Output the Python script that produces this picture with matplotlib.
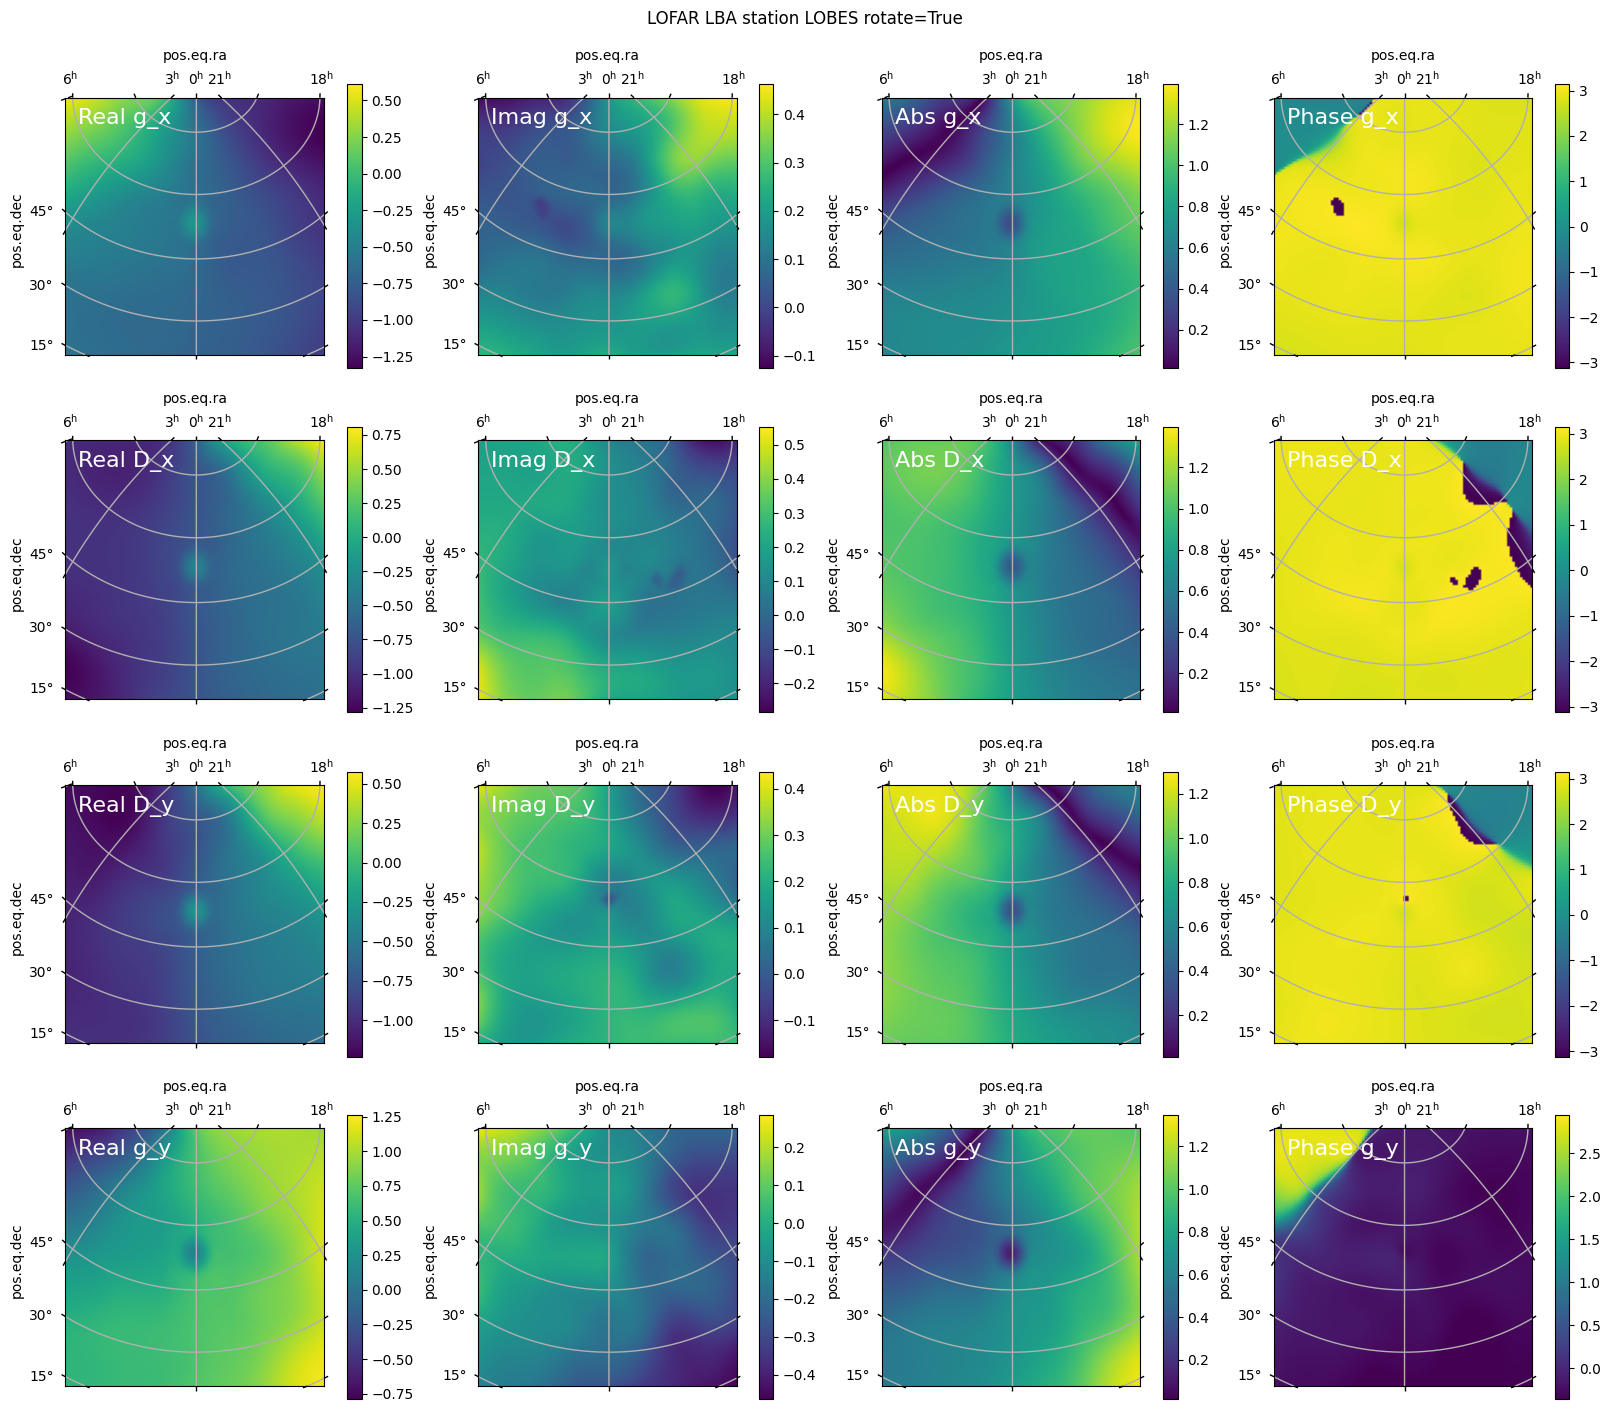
import numpy as np
import matplotlib
matplotlib.use("Agg")
import matplotlib.pyplot as plt
import matplotlib.tri as mtri

# Beam response of one LOFAR LBA station, sampled on a coarse sky grid.
# Rows run from the top of the map to the bottom, columns from left to right.
real_g_x = [
    [ 0.58,  0.45,  0.25,  0.06, -0.75, -1.05, -1.10, -1.20, -1.25],
    [ 0.33,  0.20,  0.02, -0.25, -0.58, -0.90, -1.10, -1.25, -1.33],
    [ 0.10, -0.04, -0.15, -0.35, -0.60, -0.80, -1.00, -1.15, -1.25],
    [-0.15, -0.28, -0.40, -0.50, -0.62, -0.75, -0.88, -1.00, -1.12],
    [-0.38, -0.45, -0.50, -0.55, -0.62, -0.75, -0.82, -0.95, -1.05],
    [-0.50, -0.52, -0.55, -0.58, -0.65, -0.78, -0.80, -0.88, -0.98],
    [-0.60, -0.60, -0.62, -0.64, -0.68, -0.75, -0.78, -0.85, -0.92],
    [-0.62, -0.64, -0.66, -0.66, -0.70, -0.74, -0.78, -0.85, -0.95],
    [-0.60, -0.62, -0.65, -0.68, -0.72, -0.75, -0.80, -0.90, -0.98],
]
imag_g_x = [
    [-0.12, -0.10, -0.07, -0.02,  0.18,  0.28,  0.36,  0.44,  0.46],
    [-0.02, -0.02,  0.02,  0.05,  0.15,  0.20,  0.30,  0.40,  0.40],
    [-0.01,  0.02,  0.05,  0.05,  0.08,  0.15,  0.33,  0.35,  0.32],
    [ 0.03,  0.03,  0.05,  0.07,  0.07,  0.13,  0.25,  0.25,  0.24],
    [ 0.06,  0.05,  0.03,  0.02,  0.10,  0.17,  0.20,  0.20,  0.18],
    [ 0.07,  0.10,  0.10,  0.07,  0.07,  0.10,  0.18,  0.16,  0.13],
    [ 0.13,  0.13,  0.11,  0.13,  0.14,  0.18,  0.26,  0.17,  0.12],
    [ 0.20,  0.18,  0.16,  0.17,  0.18,  0.20,  0.20,  0.18,  0.16],
    [ 0.26,  0.24,  0.21,  0.20,  0.24,  0.20,  0.20,  0.22,  0.22],
]
real_D_x = [
    [-1.00, -1.05, -1.05, -1.00, -0.65,  0.00,  0.20,  0.55,  0.80],
    [-1.02, -1.08, -1.08, -0.95, -0.75, -0.50, -0.05,  0.15,  0.50],
    [-0.98, -1.02, -1.00, -0.90, -0.75, -0.60, -0.35, -0.08,  0.25],
    [-0.98, -0.98, -0.95, -0.85, -0.73, -0.60, -0.45, -0.28, -0.02],
    [-1.00, -0.98, -0.95, -0.85, -0.72, -0.58, -0.50, -0.40, -0.25],
    [-1.05, -1.00, -0.95, -0.88, -0.72, -0.60, -0.52, -0.47, -0.35],
    [-1.15, -1.05, -0.98, -0.90, -0.75, -0.62, -0.52, -0.47, -0.42],
    [-1.28, -1.15, -1.00, -0.90, -0.75, -0.62, -0.55, -0.50, -0.47],
    [-1.20, -1.15, -1.00, -0.85, -0.75, -0.65, -0.58, -0.55, -0.52],
]
imag_D_x = [
    [ 0.18,  0.20,  0.22,  0.22,  0.10,  0.04, -0.05, -0.25, -0.20],
    [ 0.20,  0.20,  0.20,  0.22,  0.14,  0.08, -0.02, -0.08, -0.10],
    [ 0.22,  0.22,  0.22,  0.20,  0.13,  0.10,  0.01,  0.005, -0.06],
    [ 0.25,  0.22,  0.16,  0.17,  0.12,  0.10,  0.07,  0.015, -0.08],
    [ 0.28,  0.20,  0.14,  0.13,  0.08,  0.10,  0.05,  0.03, -0.06],
    [ 0.30,  0.20,  0.12,  0.10,  0.18,  0.06,  0.03,  0.05,  0.04],
    [ 0.35,  0.28,  0.27,  0.20,  0.12,  0.08,  0.08,  0.10,  0.10],
    [ 0.50,  0.35,  0.33,  0.30,  0.22,  0.20,  0.16,  0.16,  0.12],
    [ 0.52,  0.38,  0.36,  0.35,  0.22,  0.20,  0.17,  0.15,  0.13],
]
real_D_y = [
    [-1.20, -1.20, -1.20, -1.00, -0.55,  0.00,  0.25,  0.50,  0.55],
    [-1.15, -1.20, -1.20, -0.95, -0.75, -0.50,  0.02,  0.25,  0.42],
    [-1.12, -1.15, -1.10, -0.95, -0.78, -0.55, -0.30, -0.02,  0.15],
    [-1.08, -1.08, -0.97, -0.90, -0.72, -0.55, -0.40, -0.25, -0.10],
    [-1.05, -1.00, -0.90, -0.80, -0.68, -0.55, -0.45, -0.38, -0.28],
    [-1.05, -0.98, -0.92, -0.85, -0.70, -0.58, -0.50, -0.45, -0.38],
    [-1.05, -1.00, -0.95, -0.88, -0.72, -0.60, -0.52, -0.48, -0.45],
    [-1.02, -1.00, -0.98, -0.90, -0.75, -0.65, -0.58, -0.55, -0.52],
    [-0.98, -0.98, -0.97, -0.90, -0.78, -0.70, -0.65, -0.60, -0.58],
]
imag_D_y = [
    [ 0.42,  0.34,  0.30,  0.28,  0.18,  0.03, -0.05, -0.17, -0.14],
    [ 0.34,  0.30,  0.27,  0.25,  0.18,  0.06, -0.04, -0.10, -0.08],
    [ 0.38,  0.28,  0.25,  0.22,  0.18,  0.12,  0.03,  0.02,  0.03],
    [ 0.35,  0.28,  0.24,  0.20,  0.09,  0.12,  0.15,  0.10,  0.02],
    [ 0.33,  0.25,  0.18,  0.14,  0.12,  0.10,  0.18,  0.17,  0.12],
    [ 0.26,  0.19,  0.16,  0.16,  0.18,  0.14,  0.12,  0.18,  0.20],
    [ 0.28,  0.18,  0.18,  0.20,  0.22,  0.17,  0.10,  0.17,  0.18],
    [ 0.32,  0.17,  0.15,  0.18,  0.22,  0.22,  0.23,  0.25,  0.20],
    [ 0.20,  0.15,  0.16,  0.20,  0.22,  0.24,  0.24,  0.24,  0.24],
]
real_g_y = [
    [-0.72, -0.65, -0.38,  0.00,  0.72,  0.95,  1.00,  1.00,  0.95],
    [-0.45, -0.30, -0.10,  0.30,  0.65,  0.85,  0.95,  1.00,  1.05],
    [-0.20, -0.03,  0.20,  0.40,  0.60,  0.75,  0.90,  1.00,  1.12],
    [ 0.04,  0.15,  0.30,  0.35,  0.50,  0.65,  0.80,  0.95,  1.15],
    [ 0.25,  0.30,  0.35,  0.40,  0.55,  0.65,  0.72,  0.90,  1.15],
    [ 0.40,  0.42,  0.48,  0.50,  0.65,  0.70,  0.80,  0.90,  1.10],
    [ 0.50,  0.55,  0.58,  0.60,  0.68,  0.72,  0.80,  0.92,  1.10],
    [ 0.55,  0.57,  0.60,  0.62,  0.68,  0.75,  0.85,  1.05,  1.20],
    [ 0.55,  0.57,  0.60,  0.62,  0.70,  0.78,  0.90,  1.12,  1.22],
]
imag_g_y = [
    [ 0.28,  0.22,  0.15,  0.04, -0.10, -0.15, -0.22, -0.22, -0.22],
    [ 0.15,  0.12,  0.05, -0.05, -0.08, -0.13, -0.25, -0.30, -0.30],
    [ 0.18,  0.05,  0.03, -0.04, -0.05, -0.13, -0.30, -0.36, -0.35],
    [ 0.08,  0.05, -0.02, -0.07, -0.08, -0.15, -0.20, -0.32, -0.33],
    [ 0.03,  0.00, -0.02, -0.02, -0.05, -0.20, -0.20, -0.25, -0.30],
    [ 0.05, -0.05, -0.08, -0.10, -0.10, -0.18, -0.22, -0.22, -0.30],
    [-0.03, -0.08, -0.10, -0.12, -0.17, -0.18, -0.32, -0.30, -0.32],
    [-0.08, -0.12, -0.13, -0.18, -0.20, -0.25, -0.37, -0.38, -0.42],
    [-0.13, -0.15, -0.18, -0.25, -0.27, -0.33, -0.38, -0.42, -0.46],
]

# Values at the beam centre, where all the maps show a compact feature.
centre_real = {"g_x": -0.30, "D_x": -0.35, "D_y": -0.30, "g_y": 0.12}
centre_imag = {"g_x": 0.14, "D_x": 0.15, "D_y": 0.13, "g_y": -0.03}

# Extra samples (across, down, value) for small structures in the imaginary part;
# a value of None leaves the broad field untouched at that sample.
extra_imag = {
    "g_x": [(0.24, 0.40, -0.012), (0.252, 0.445, -0.012),
            (0.19, 0.41, None), (0.30, 0.43, None), (0.235, 0.34, None), (0.255, 0.51, None)],
    "D_x": [(0.775, 0.51, -0.035), (0.755, 0.545, -0.035), (0.69, 0.538, -0.022),
            (0.725, 0.535, None), (0.825, 0.52, None), (0.785, 0.455, None), (0.79, 0.59, None),
            (0.715, 0.59, None), (0.65, 0.54, None), (0.69, 0.49, None)],
    "D_y": [(0.505, 0.445, -0.01), (0.46, 0.445, None), (0.55, 0.445, None),
            (0.505, 0.40, None)],
    "g_y": [],
}

# Colour limits of the sixteen maps.
real_limits = {"g_x": (-1.33, 0.61), "D_x": (-1.284, 0.806), "D_y": (-1.233, 0.574), "g_y": (-0.79, 1.26)}
imag_limits = {"g_x": (-0.126, 0.462), "D_x": (-0.286, 0.552), "D_y": (-0.179, 0.436), "g_y": (-0.465, 0.285)}
abs_limits = {"g_x": (0.012, 1.395), "D_x": (0.01, 1.395), "D_y": (0.012, 1.298), "g_y": (0.016, 1.345)}
phase_limits = {"g_x": (-3.13, 3.14), "D_x": (-3.125, 3.14), "D_y": (-3.125, 3.14), "g_y": (-0.36, 2.94)}

components = ["g_x", "D_x", "D_y", "g_y"]
real_grids = {"g_x": real_g_x, "D_x": real_D_x, "D_y": real_D_y, "g_y": real_g_y}
imag_grids = {"g_x": imag_g_x, "D_x": imag_D_x, "D_y": imag_D_y, "g_y": imag_g_y}

dec_values = [15, 30, 45, 60, 75]
ra_hours = [6, 3, 0, 21, 18]
dec_labels = [15, 30, 45]

W, H = 1610, 1411
N_CELLS = 100
DEC0 = np.radians(52.9)
# Direction-cosine limits of the map frame.
L_LEFT, L_RIGHT = -0.530, 0.518
M_BOTTOM, M_TOP = -0.527, 0.516

col_x = [(65.3, 324.4, 346.6, 361.6), (478.3, 736.6, 759.3, 773.3),
         (881.6, 1140.4, 1162.6, 1177.6), (1273.7, 1532.4, 1554.6, 1569.0)]
row_y = [(97.7, 355.0, 84.3, 368.3), (440.3, 699.3, 427.3, 712.3),
         (785.3, 1043.3, 772.3, 1056.7), (1128.3, 1386.3, 1115.3, 1399.3)]

CELLS = (np.arange(N_CELLS) + 0.5) / N_CELLS
FINE_U, FINE_V = np.meshgrid(CELLS, CELLS)


def resample(grid, centre, extras):
    """Evaluate the sampled field on the image cells: a broad part plus compact local departures."""
    grid = np.asarray(grid, float)
    nodes = np.linspace(0, 1, grid.shape[0])
    uu, vv = np.meshgrid(nodes, nodes)
    u, v = uu.ravel(), vv.ravel()
    tri = mtri.Triangulation(u, v)
    broad = mtri.CubicTriInterpolator(tri, grid.ravel(), kind="min_E")

    # departures from the broad part, zero on the coarse nodes and on a ring round the centre
    cu, cv = 0.5, 0.488
    keep = ~((np.abs(u - 0.5) < 1e-6) & (np.abs(v - 0.5) < 1e-6))
    du, dv, dz = list(u[keep]), list(v[keep]), [0.0] * int(keep.sum())
    for ang in np.arange(8) * np.pi / 4:
        du.append(cu + 0.075 * np.cos(ang)); dv.append(cv + 0.095 * np.sin(ang)); dz.append(0.0)
    du.append(cu); dv.append(cv); dz.append(centre - float(broad(cu, cv)))
    for eu, ev, ez in extras:
        du.append(eu); dv.append(ev)
        dz.append(0.0 if ez is None else ez - float(broad(eu, ev)))
    local = mtri.CubicTriInterpolator(mtri.Triangulation(np.array(du), np.array(dv)),
                                      np.array(dz), kind="geom")
    return np.ma.filled(broad(FINE_U, FINE_V), np.nan) + np.ma.filled(local(FINE_U, FINE_V), 0.0)


def sin_proj(ra, dec):
    """Orthographic (SIN) projection about RA 0h at the station latitude, RA growing to the left."""
    l = -np.cos(dec) * np.sin(ra)
    m = np.sin(dec) * np.cos(DEC0) - np.cos(dec) * np.sin(DEC0) * np.cos(ra)
    return l, m


def dec_line(dec_deg):
    ra = np.radians(np.linspace(-130, 130, 1500))
    return sin_proj(ra, np.full_like(ra, np.radians(dec_deg)))


def ra_line(hour):
    dec = np.radians(np.linspace(-5, 90, 1500))
    return sin_proj(np.full_like(dec, np.radians(hour * 15.0)), dec)


def edge_crossings(l, m):
    """Return (l, m, dl, dm, side) where a curve leaves the frame, direction pointing outwards."""
    inside = (l > L_LEFT) & (l < L_RIGHT) & (m > M_BOTTOM) & (m < M_TOP)
    result = []
    for i in np.nonzero(inside[1:] != inside[:-1])[0]:
        a, b = (i, i + 1) if inside[i] else (i + 1, i)
        dl, dm = l[b] - l[a], m[b] - m[a]
        norm = np.hypot(dl, dm)
        side = "top" if m[b] >= M_TOP else "bottom" if m[b] <= M_BOTTOM else "left" if l[b] <= L_LEFT else "right"
        result.append((l[a], m[a], dl / norm, dm / norm, side))
    return result


plt.rcParams["font.size"] = 10
fig = plt.figure(figsize=(W / 100, H / 100), dpi=100)
fig.text(0.5, 1 - 19.0 / H, "LOFAR LBA station LOBES rotate=True", ha="center", va="center", fontsize=12)

GRID = "#b0b0b0"
for r, comp in enumerate(components):
    re_f = resample(real_grids[comp], centre_real[comp], [])
    im_f = resample(imag_grids[comp], centre_imag[comp], extra_imag[comp])
    cplx = re_f + 1j * im_f
    fields = [("Real", re_f, real_limits), ("Imag", im_f, imag_limits),
              ("Abs", np.abs(cplx), abs_limits), ("Phase", np.angle(cplx), phase_limits)]
    top, bottom, ctop, cbottom = row_y[r]
    for c, (name, field, limits) in enumerate(fields):
        left, right, cleft, cright = col_x[c]
        ax = fig.add_axes([left / W, 1 - bottom / H, (right - left) / W, (bottom - top) / H])
        im = ax.imshow(field, origin="upper", aspect="auto", cmap="viridis",
                       extent=(L_LEFT, L_RIGHT, M_BOTTOM, M_TOP),
                       vmin=limits[comp][0], vmax=limits[comp][1])
        ax.set_xticks([]); ax.set_yticks([])
        ax.set_xlim(L_LEFT, L_RIGHT); ax.set_ylim(M_BOTTOM, M_TOP)

        px_per_unit = (right - left) / (L_RIGHT - L_LEFT)
        tick = 4.5 / px_per_unit
        curves = [dec_line(d) for d in dec_values] + [ra_line(h) for h in ra_hours]
        for l, m in curves:
            ax.plot(l, m, color=GRID, lw=1.0, zorder=2)
            for cl, cm, dl, dm, side in edge_crossings(l, m):
                ax.plot([cl, cl + tick * dl], [cm, cm + tick * dm], color="k", lw=1.0,
                        clip_on=False, solid_capstyle="butt", zorder=3)
        ax.text(0.05, 0.896, f"{name} {comp}", transform=ax.transAxes, color="w", fontsize=16, zorder=4)

        # coordinate labels
        for hour, frac in zip(ra_hours, [0.018, 0.414, 0.505, 0.596, 0.99]):
            fig.text((left + frac * (right - left)) / W, 1 - (top - 13.0) / H,
                     f"{hour}$^\\mathrm{{h}}$", ha="center", va="baseline", fontsize=10)
        for dec in dec_labels:
            l, m = dec_line(dec)
            hits = [h for h in edge_crossings(l, m) if h[4] == "left"]
            y_px = top + (M_TOP - hits[0][1]) * px_per_unit
            fig.text((left - 11.5) / W, 1 - y_px / H, f"{dec}\u00b0", ha="right", va="center", fontsize=10)
        fig.text((left + right) / 2 / W, 1 - (top - 41.5) / H, "pos.eq.ra", ha="center", va="center", fontsize=10)
        fig.text((left - 48.6) / W, 1 - ((top + bottom) / 2 + 3) / H, "pos.eq.dec", rotation=90,
                 ha="center", va="center", fontsize=10)

        cax = fig.add_axes([cleft / W, 1 - cbottom / H, (cright - cleft) / W, (cbottom - ctop) / H])
        fig.colorbar(im, cax=cax)

fig.savefig("out.png", dpi=100)
